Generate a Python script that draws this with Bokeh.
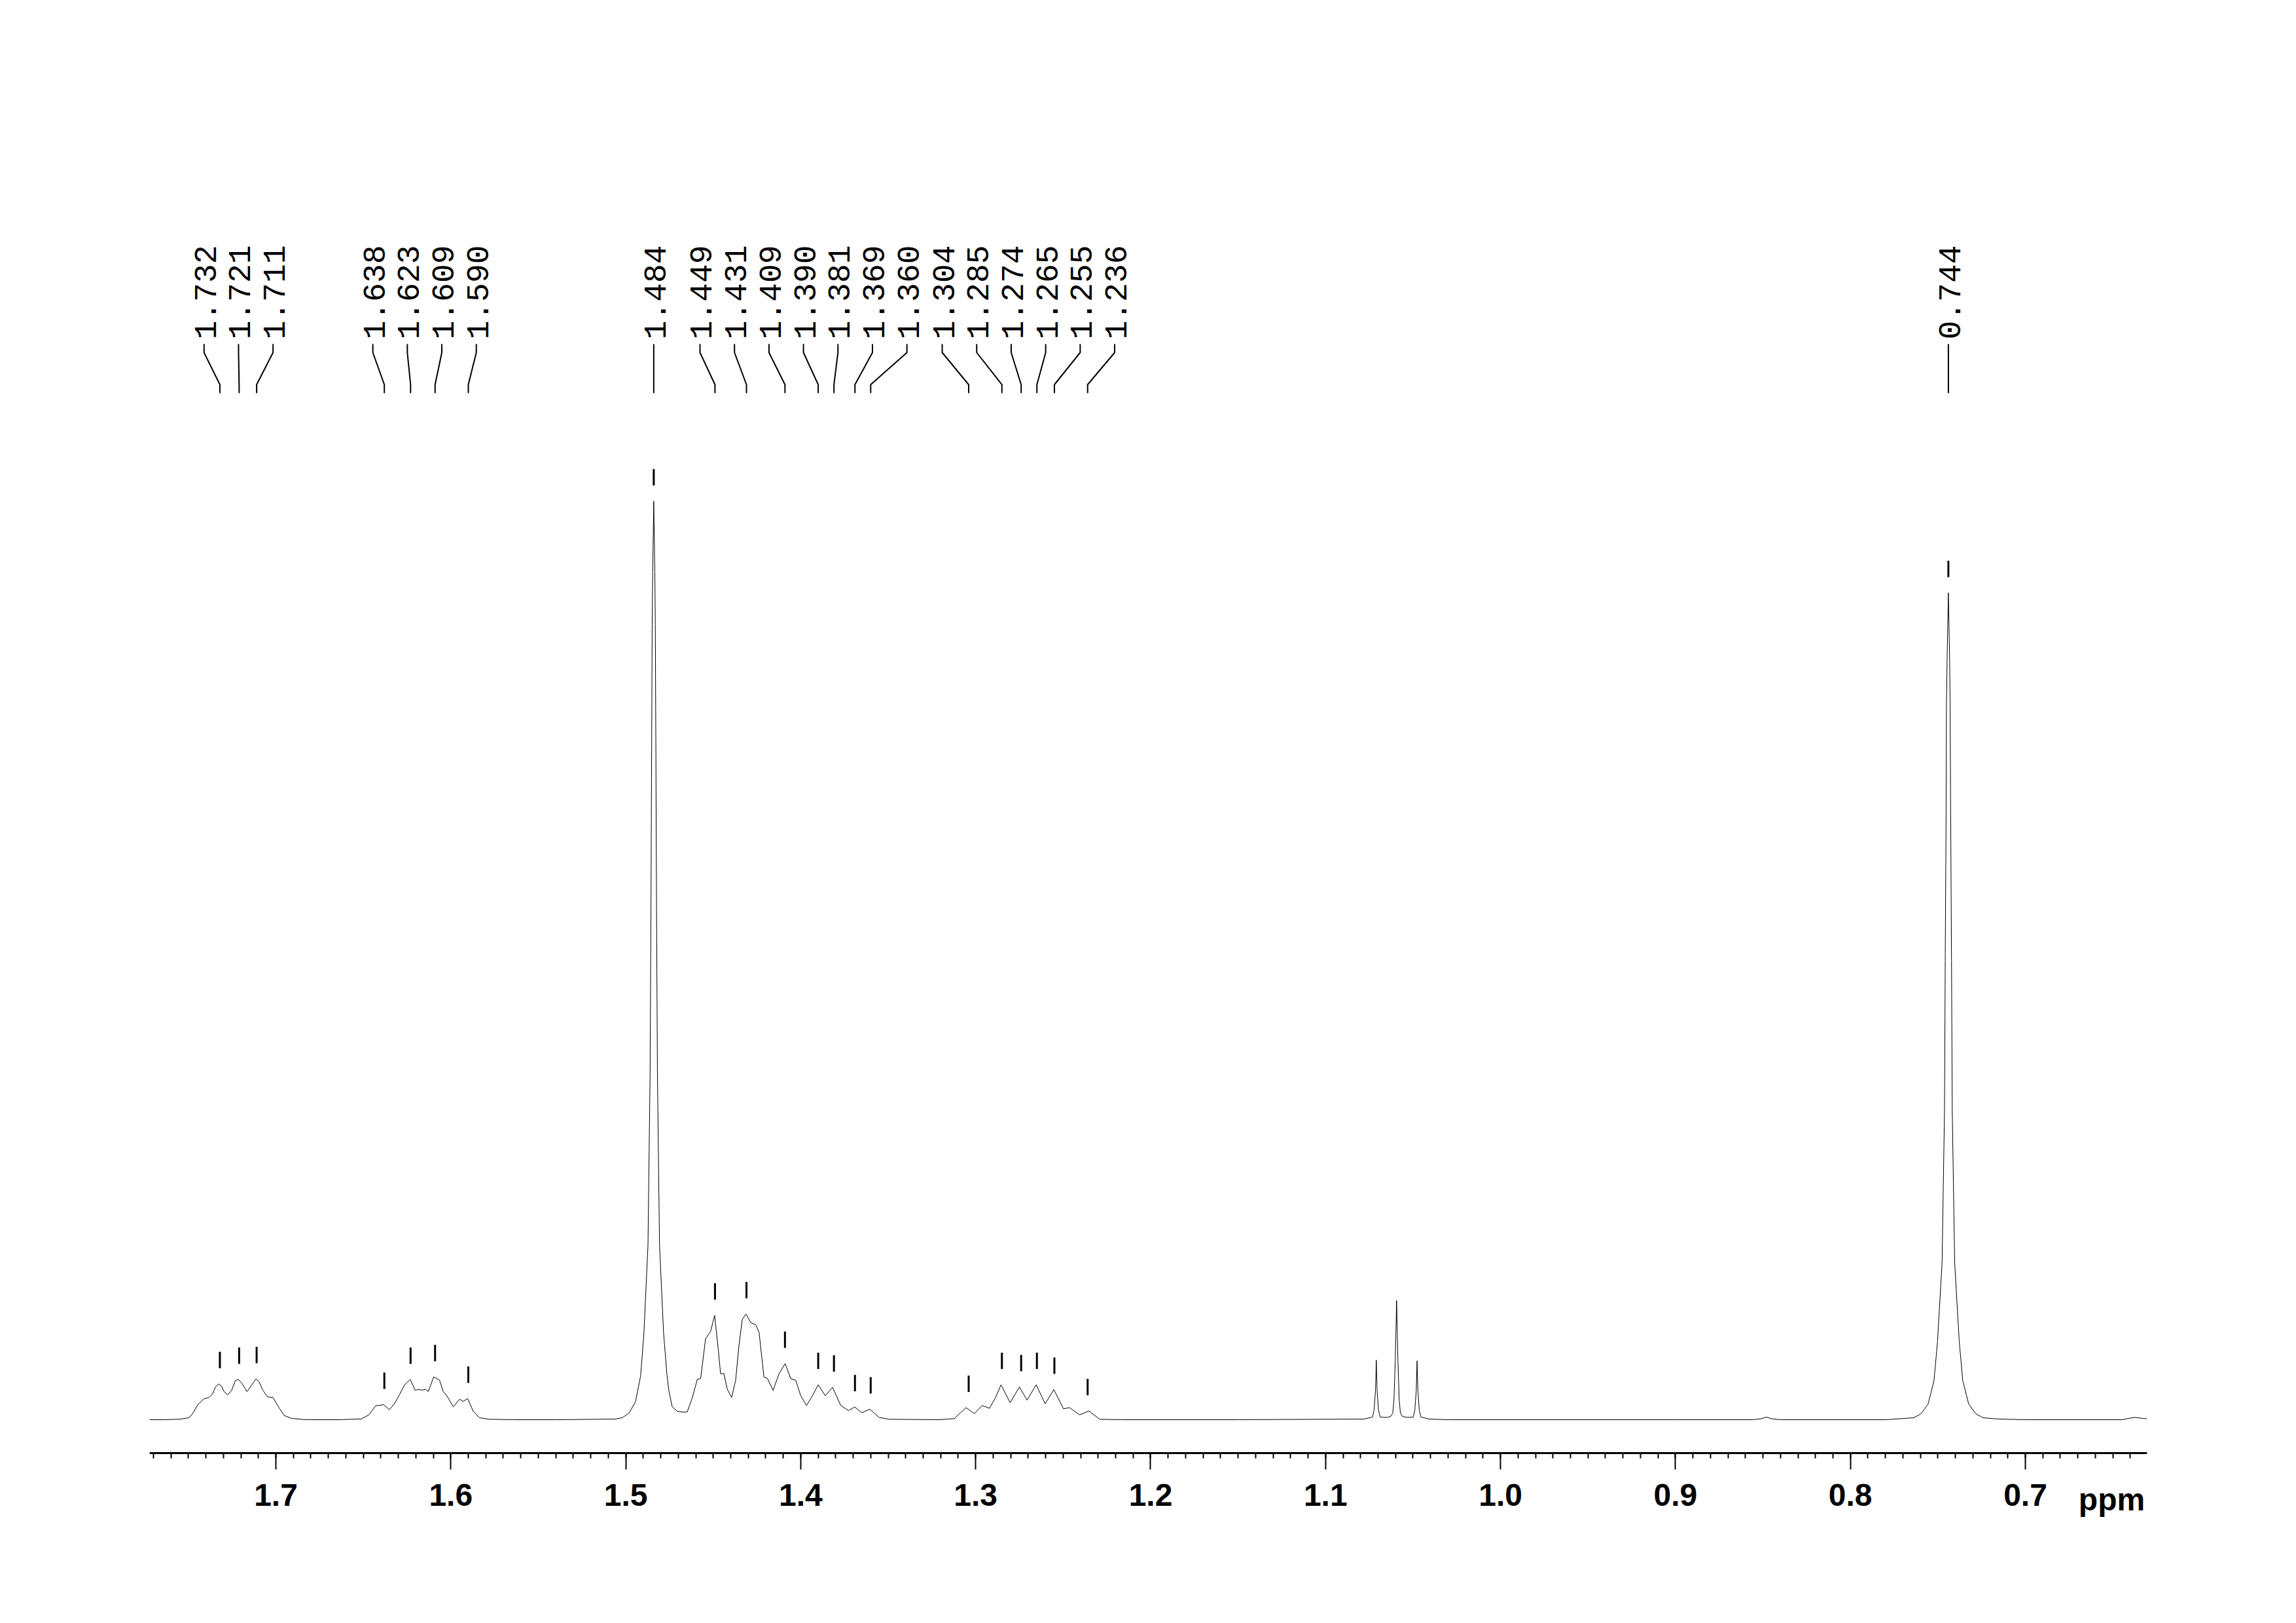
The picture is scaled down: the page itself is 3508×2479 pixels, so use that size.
import math
from bokeh.plotting import figure
from bokeh.models import Range1d, SingleIntervalTicker, PrintfTickFormatter
from bokeh.embed import file_html
from bokeh.resources import INLINE
from bokeh.core.properties import value

# ---------------- data ----------------
shift_ppm = [
    1.7722, 1.7640, 1.7554, 1.7496, 1.7475, 1.7446, 1.7411, 1.7382, 1.7361, 1.7346,
    1.7328, 1.7311, 1.7296, 1.7275, 1.7253, 1.7232, 1.7214, 1.7196, 1.7165, 1.7138,
    1.7114, 1.7096, 1.7074, 1.7046, 1.7017, 1.6981, 1.6952, 1.6909, 1.6838, 1.6781,
    1.6638, 1.6509, 1.6466, 1.6430, 1.6409, 1.6384, 1.6351, 1.6322, 1.6294, 1.6265,
    1.6232, 1.6203, 1.6187, 1.6165, 1.6144, 1.6129, 1.6098, 1.6065, 1.6043, 1.6022,
    1.5986, 1.5950, 1.5929, 1.5904, 1.5872, 1.5836, 1.5779, 1.5635, 1.5395,
    1.5064, 1.5020, 1.4982, 1.4945, 1.4915, 1.4896, 1.4873, 1.4861, 1.4856, 1.4852,
    1.4849, 1.4846, 1.4840, 1.4834, 1.4831, 1.4828, 1.4824, 1.4819, 1.4807, 1.4784,
    1.4765, 1.4754, 1.4735, 1.4706, 1.4678, 1.4649, 1.4620, 1.4591, 1.4572, 1.4544,
    1.4515, 1.4492, 1.4471, 1.4458, 1.4439, 1.4420, 1.4395, 1.4372, 1.4353, 1.4334,
    1.4313, 1.4286, 1.4257, 1.4238, 1.4210, 1.4191, 1.4158, 1.4124, 1.4089, 1.4057,
    1.4028, 1.4000, 1.3967, 1.3933, 1.3900, 1.3860, 1.3818, 1.3771, 1.3727, 1.3691,
    1.3651, 1.3605, 1.3551, 1.3494, 1.3208, 1.3122, 1.3083, 1.3055, 1.3007, 1.2963,
    1.2921, 1.2887, 1.2855, 1.2803, 1.2750, 1.2706, 1.2654, 1.2603, 1.2553, 1.2498,
    1.2463, 1.2406, 1.2352, 1.2291, 1.2158, 1.1500,
    1.0781, 1.0732, 1.07225, 1.07145, 1.0710, 1.07055, 1.06975, 1.0688, 1.0650,
    1.0628, 1.0616, 1.0609, 1.06015, 1.0594, 1.05865, 1.0579, 1.0572, 1.0560, 1.0532,
    1.0499, 1.04895, 1.04815, 1.0477, 1.04725, 1.04645, 1.0455, 1.0407, 1.0300,
    0.9000, 0.8560, 0.8510, 0.8480, 0.8450, 0.8400, 0.7800,
    0.7638, 0.7597, 0.7556, 0.7522, 0.7502, 0.7476, 0.7462, 0.7458, 0.7453, 0.7451,
    0.7447, 0.7440, 0.7433, 0.7430, 0.7427, 0.7422, 0.7418, 0.7404, 0.7378, 0.7358,
    0.7324, 0.7283, 0.7242, 0.7150, 0.7000, 0.6450, 0.6400, 0.6370, 0.6330, 0.6304,
]
intensity = [
    0, 0, 0.7, 3, 9.7, 23, 32, 34, 39.7, 49.7,
    54.7, 51.3, 43, 38, 44.7, 59.7, 61.3, 56.3, 43, 53,
    62.3, 58, 44.7, 34.7, 34, 18, 6.3, 2, 0.3, 0,
    0, 1.3, 8, 21.3, 22, 23, 15.3, 24.7, 38, 53,
    61.3, 44.7, 46.3, 45.3, 46.3, 43, 65.3, 60.7, 43, 36.3,
    19.7, 31.3, 28, 32.3, 13, 3, 0.7, 0, 0,
    1, 3, 10, 27, 67, 133, 267, 528, 778, 1030,
    1215, 1295, 1403, 1295, 1215, 1030, 778, 528, 267, 133,
    70, 45, 20, 13, 11.7, 11.7, 33.3, 61.7, 62.7, 123.4,
    135, 159.4, 106.7, 70, 70.7, 46.7, 34, 60, 113.4, 153.4,
    161.4, 148.4, 145, 133.4, 65, 63.4, 45, 70, 85.7, 62.7,
    60, 36.7, 21.7, 36.7, 53.4, 36.7, 49.4, 21.7, 14, 19.4,
    10.7, 16, 3.4, 0.7, 0, 1.7, 11.7, 18.4, 9.4, 21.7,
    17.4, 33.4, 53.4, 26, 50, 30, 53.4, 24.4, 46, 16.7,
    18.4, 7.4, 13.4, 0.7, 0, 0,
    1, 4, 15, 45, 91, 45, 15, 4, 3.5,
    5, 10, 30, 91, 182, 91, 30, 10, 5, 3.5,
    4, 15, 45, 90, 45, 15, 4, 1, 0,
    0, 0, 1.5, 4, 1.5, 0, 0,
    3, 9, 24, 60, 120, 240, 475, 701, 927, 1094,
    1166, 1263, 1166, 1094, 927, 701, 475, 240, 120, 60,
    24, 9, 3, 1, 0, 0, 2.5, 3.5, 2, 1.5,
]

peak_labels = ["1.732", "1.721", "1.711", "1.638", "1.623", "1.609", "1.590",
               "1.484", "1.449", "1.431", "1.409", "1.390", "1.381", "1.369",
               "1.360", "1.304", "1.285", "1.274", "1.265", "1.255", "1.236",
               "0.744"]
peak_ppm = [float(t) for t in peak_labels]
peak_height = [54.7, 61.3, 62.3, 23, 61.3, 65.3, 32.3,
               1403, 159.4, 161.4, 85.7, 53.4, 49.4, 19.4,
               16, 18.4, 53.4, 50, 53.4, 46, 13.4,
               1263]

axis_tick_interval = 0.1
axis_unit = "ppm"

# ---------------- layout (1 intensity unit = 1 px) ----------------
W, H = 3500, 2440
PX_PER_PPM = 2673.0
FRAME_LEFT, FRAME_RIGHT = 228, 3280
X_LEFT = 1.7722
X_RIGHT = X_LEFT - (FRAME_RIGHT - FRAME_LEFT) / PX_PER_PPM
BASELINE_PX = 2168          # page row of zero intensity
Y_TOP = BASELINE_PX
Y_BOTTOM = BASELINE_PX - H
AXIS_Y = -51                # axis line, 51 px under the baseline

p = figure(width=W, height=H, output_backend="svg", toolbar_location=None,
           x_range=Range1d(X_LEFT, X_RIGHT), y_range=Range1d(Y_BOTTOM, Y_TOP),
           y_axis_location=None, title=None,
           min_border_left=FRAME_LEFT, min_border_right=W - FRAME_RIGHT,
           min_border_top=0, min_border_bottom=0)
p.xgrid.visible = False
p.ygrid.visible = False
p.outline_line_color = None
p.background_fill_color = "white"
p.border_fill_color = "white"

TICK_FONT = "Liberation Sans"
ax = p.xaxis[0]
ax.fixed_location = AXIS_Y
ax.ticker = SingleIntervalTicker(interval=axis_tick_interval, num_minor_ticks=10)
ax.formatter = PrintfTickFormatter(format="%.1f")
ax.axis_line_width = 3
ax.axis_line_color = "black"
ax.major_tick_line_width = 2
ax.minor_tick_line_width = 2
ax.major_tick_line_color = "black"
ax.minor_tick_line_color = "black"
ax.major_tick_out = 25
ax.major_tick_in = 0
ax.minor_tick_out = 8
ax.minor_tick_in = 0
ax.major_label_text_font = TICK_FONT
ax.major_label_text_font_style = "bold"
ax.major_label_text_font_size = "48px"
ax.major_label_text_color = "black"
ax.major_label_standoff = 22

# unit label at the right end of the axis
p.text(x=[X_LEFT - (3226 - FRAME_LEFT) / PX_PER_PPM], y=[-122], text=[axis_unit],
       text_align="center", text_baseline="alphabetic",
       text_font=value(TICK_FONT), text_font_style="bold",
       text_font_size="48px", text_color="black")

# spectrum
p.line(shift_ppm, intensity, line_width=1, line_color="black")

# peak tick marks above each picked peak
MARK_GAP, MARK_LEN = 24, 25
p.segment(x0=peak_ppm, y0=[h + MARK_GAP for h in peak_height],
          x1=peak_ppm, y1=[h + MARK_GAP + MARK_LEN for h in peak_height],
          line_width=3, line_color="black")

# label de-overlap: clusters centred on their peaks, fixed spacing
SPACING = 52.7 / PX_PER_PPM
n = len(peak_ppm)
order = sorted(range(n), key=lambda i: -peak_ppm[i])
u = [X_LEFT - peak_ppm[i] for i in order]
clusters = [[k] for k in range(n)]

def c_start(cl):
    m = sum(u[k] for k in cl) / len(cl)
    return m - (len(cl) - 1) * SPACING / 2

merged = True
while merged:
    merged = False
    for j in range(len(clusters) - 1):
        a, b = clusters[j], clusters[j + 1]
        a_end = c_start(a) + (len(a) - 1) * SPACING
        if c_start(b) - a_end < SPACING - 1e-12:
            clusters[j] = a + b
            del clusters[j + 1]
            merged = True
            break

label_x = [0.0] * n
for cl in clusters:
    s0 = c_start(cl)
    for idx, k in enumerate(cl):
        label_x[order[k]] = X_LEFT - (s0 + idx * SPACING)

# leader lines (label -> peak)
Y_TXT = 1650
Y_L0, Y_L1, Y_L2, Y_L3 = 1643, 1630, 1581, 1568
xs = [[label_x[i], label_x[i], peak_ppm[i], peak_ppm[i]] for i in range(n)]
ys = [[Y_L0, Y_L1, Y_L2, Y_L3] for _ in range(n)]
p.multi_line(xs, ys, line_width=2, line_color="black")

p.text(x=label_x, y=[Y_TXT] * n, text=peak_labels, angle=math.pi / 2,
       text_align="left", text_baseline="middle", x_offset=2,
       text_font=value("Liberation Mono"), text_font_size="48px",
       text_color="black")

open("out.html", "w").write(file_html(p, INLINE))
